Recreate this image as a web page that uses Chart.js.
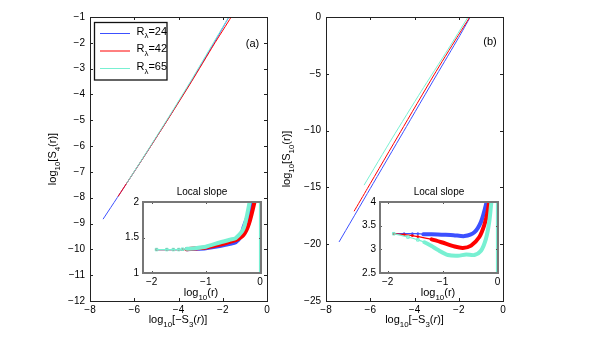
<!DOCTYPE html>
<html><head><meta charset="utf-8">
<script src="https://cdn.jsdelivr.net/npm/chart.js@4/dist/chart.umd.min.js"></script>
<style>
html,body{margin:0;padding:0;background:#fff;}
#wrap{position:relative;width:592px;height:355px;overflow:hidden;background:#fff;}
canvas{position:absolute;left:0;top:0;}
</style></head><body>
<div id="wrap">
<canvas id="mainA" width="592" height="355"></canvas>
<canvas id="mainB" width="592" height="355"></canvas>
<canvas id="insetA" width="592" height="355"></canvas>
<canvas id="insetB" width="592" height="355"></canvas>
</div>
<script>
// ---------- categories / labels ----------
const seriesLabels = ['24', '42', '65'];          // R_lambda values
const mainXTicks = [-8, -6, -4, -2, 0];
const mainAYTicks = [-12, -11, -10, -9, -8, -7, -6, -5, -4, -3, -2, -1];
const mainBYTicks = [-25, -20, -15, -10, -5, 0];
const insetXTicks = [-2, -1, 0];
const insetAYTicks = [1, 1.5, 2];
const insetBYTicks = [2.5, 3, 3.5, 4];

// ---------- panel (a): log10[S4] vs log10[-S3] ----------
const aBlueX = [-7.41, -6.41, -5.41, -4.41, -3.41, -2.41, -1.71, -1.2];
const aBlueY = [-8.83, -7.53, -6.21, -4.86, -3.47, -2.03, -0.98, -0.2];
const aRedX  = [-6.73, -5.41, -4.41, -3.41, -2.41, -1.62, -1.2];
const aRedY  = [-7.95, -6.21, -4.87, -3.5, -2.08, -1.0, -0.35];
const aCyanX = [-6.35, -5.41, -4.41, -3.41, -2.41, -1.73, -1.3];
const aCyanY = [-7.45, -6.19, -4.83, -3.43, -1.98, -1.0, -0.35];

// ---------- panel (b): log10[S10] vs log10[-S3] ----------
const bBlueX = [-7.41, -6, -4.5, -3, -2, -1.48, -1.2];
const bBlueY = [-19.8, -15.1, -10.1, -5.1, -1.8, 0, 1.0];
const bRedX  = [-6.73, -6.13, -4.63, -3.12, -2.08, -1.5, -1.2];
const bRedY  = [-17.1, -15.1, -10.1, -5.1, -1.8, 0, 1.0];
const bCyanX = [-6.28, -5.0, -3.7, -2.5, -1.58, -1.3];
const bCyanY = [-14.8, -10.64, -6.55, -2.89, 0, 0.9];

// ---------- inset (a): local slope vs log10(r) ----------
const iaBlueX = [-1.91, -1.72, -1.6, -1.5, -1.43, -1.35, -1.2, -1.0, -0.74, -0.55, -0.45, -0.35, -0.3, -0.2, -0.13, -0.08];
const iaBlueY = [1.33, 1.33, 1.33, 1.33, 1.33, 1.335, 1.34, 1.35, 1.38, 1.41, 1.43, 1.52, 1.65, 1.85, 2.0, 2.2];
const iaRedX  = [-1.91, -1.72, -1.6, -1.5, -1.43, -1.35, -1.2, -1.0, -0.74, -0.55, -0.45, -0.3, -0.2, -0.1, -0.05];
const iaRedY  = [1.33, 1.33, 1.33, 1.33, 1.33, 1.335, 1.345, 1.36, 1.40, 1.44, 1.46, 1.54, 1.7, 2.0, 2.2];
const iaCyanX = [-1.91, -1.72, -1.6, -1.5, -1.43, -1.35, -1.2, -1.0, -0.74, -0.55, -0.45, -0.3, -0.19, -0.12];
const iaCyanY = [1.33, 1.33, 1.33, 1.33, 1.335, 1.34, 1.35, 1.37, 1.43, 1.47, 1.49, 1.63, 2.0, 2.3];
const iaEdgeX = [0, 0];
const iaEdgeY = [0.9, 2.1];

// ---------- inset (b): local slope vs log10(r) ----------
const ibBlueX = [-1.89, -1.7, -1.55, -1.45, -1.35, -1.2, -1.02, -0.8, -0.6, -0.42, -0.3, -0.21, -0.15];
const ibBlueY = [3.33, 3.33, 3.33, 3.33, 3.32, 3.32, 3.31, 3.30, 3.28, 3.36, 3.58, 3.94, 4.3];
const ibRedX  = [-1.89, -1.7, -1.55, -1.45, -1.2, -1.02, -0.78, -0.63, -0.48, -0.33, -0.24, -0.18, -0.1];
const ibRedY  = [3.33, 3.31, 3.29, 3.27, 3.21, 3.15, 3.06, 3.03, 3.08, 3.26, 3.51, 3.79, 4.4];
const ibCyanX = [-1.89, -1.63, -1.45, -1.33, -1.2, -1.09, -0.9, -0.72, -0.57, -0.42, -0.3, -0.21, -0.15, -0.11, -0.05];
const ibCyanY = [3.33, 3.26, 3.2, 3.15, 3.07, 2.99, 2.88, 2.865, 2.89, 2.88, 2.97, 3.22, 3.58, 4.0, 4.5];
const ibEdgeX = [-0.01, -0.01];
const ibEdgeY = [2.4, 4.1];

// ---------- styling ----------
const FONT = '"Liberation Sans", Arial, Helvetica, sans-serif';
const BLUE = 'rgb(60,80,255)';
const RED = 'rgb(255,0,0)';
const CYAN = 'rgb(120,240,210)';
const COLORS = [BLUE, RED, CYAN];

function pts(xs, ys) { return xs.map((x, i) => ({ x: x, y: ys[i] })); }
function fmt(v) { return v < 0 ? '\u2212' + String(Math.abs(v)) : String(v); }

function drawRich(ctx, parts, x, y, size, align, angle) {
  ctx.save();
  ctx.translate(x, y);
  if (angle) ctx.rotate(angle);
  const sub = size * 0.72;
  let w = 0;
  const segs = parts.map(p => {
    const f = (p[2] ? 'italic ' : '') + (p[1] ? sub : size) + 'px ' + FONT;
    ctx.font = f;
    const m = ctx.measureText(p[0]).width;
    w += m;
    return [p[0], p[1], m, f];
  });
  let cx = align === 'center' ? -w / 2 : (align === 'right' ? -w : 0);
  ctx.textAlign = 'left';
  ctx.textBaseline = 'alphabetic';
  ctx.fillStyle = '#000';
  for (const s of segs) {
    ctx.font = s[3];
    ctx.fillText(s[0], cx, s[1] ? size * 0.32 : 0);
    cx += s[2];
  }
  ctx.restore();
}

function axis(min, max, ticks, dir, size, pad, fontSize) {
  return {
    type: 'linear', min: min, max: max,
    afterBuildTicks: s => { s.ticks = ticks.map(v => ({ value: v })); },
    afterFit: s => { if (dir === 'x') s.height = size; else s.width = size; },
    grid: { display: false, drawTicks: false },
    border: { display: false },
    ticks: {
      padding: pad, color: '#000', font: { family: FONT, size: fontSize },
      maxRotation: 0, minRotation: 0, autoSkip: false,
      callback: v => fmt(v)
    }
  };
}

function framePlugin(o) {
  return {
    id: 'frame',
    beforeDatasetsDraw(chart) {
      if (!o.fill) return;
      const a = chart.chartArea, ctx = chart.ctx;
      ctx.save(); ctx.fillStyle = '#fff';
      ctx.fillRect(a.left, a.top, a.right - a.left, a.bottom - a.top);
      ctx.restore();
    },
    afterDatasetsDraw(chart) {
      const a = chart.chartArea, ctx = chart.ctx, xs = chart.scales.x, ys = chart.scales.y;
      const L = o.tickLen;
      ctx.save();
      ctx.strokeStyle = o.tickColor; ctx.lineWidth = 1;
      ctx.beginPath();
      xs.ticks.forEach(t => {
        const p = Math.round(xs.getPixelForValue(t.value)) + 0.5;
        ctx.moveTo(p, a.bottom); ctx.lineTo(p, a.bottom - L);
        ctx.moveTo(p, a.top); ctx.lineTo(p, a.top + L);
      });
      ys.ticks.forEach(t => {
        const p = Math.round(ys.getPixelForValue(t.value)) + 0.5;
        ctx.moveTo(a.left, p); ctx.lineTo(a.left + L, p);
        ctx.moveTo(a.right, p); ctx.lineTo(a.right - L, p);
      });
      ctx.stroke();
      ctx.strokeStyle = o.frameColor; ctx.lineWidth = o.frameWidth;
      const off = o.frameWidth % 2 ? 0.5 : 0;
      ctx.strokeRect(a.left + off, a.top + off, a.right - a.left, a.bottom - a.top);
      ctx.restore();
    },
    afterDraw(chart) { if (o.draw) o.draw(chart.ctx, chart); }
  };
}

function mainDs(xs, ys, color, order) {
  return { data: pts(xs, ys), showLine: true, borderColor: color, borderWidth: 1, pointRadius: 0,
    tension: 0.2, clip: 0, order: order };
}
function insetDs(xs, ys, color, order, mk) {
  return { data: pts(xs, ys), showLine: true, borderColor: color, borderWidth: 4,
    segment: { borderWidth: c => (c.p0.parsed.x < -1.4 ? 1.2 : 4) },
    pointStyle: 'rect', pointRadius: c => (c.raw && c.raw.x < -1.38 ? mk : 0),
    pointBorderColor: color, pointBackgroundColor: 'rgba(0,0,0,0)', pointBorderWidth: 1,
    borderJoinStyle: 'round', borderCapStyle: 'round',
    tension: 0.25, clip: 0, order: order };
}

function build(id, o) {
  return new Chart(document.getElementById(id), {
    type: 'scatter',
    data: { datasets: o.datasets },
    options: {
      responsive: false, animation: false, devicePixelRatio: 1, events: [],
      layout: { padding: o.padding },
      plugins: { legend: { display: false }, tooltip: { enabled: false } },
      scales: {
        x: axis(o.xMin, o.xMax, o.xTicks, 'x', o.xH, o.xPad, 10),
        y: axis(o.yMin, o.yMax, o.yTicks, 'y', o.yW, o.yPad, 10)
      }
    },
    plugins: [framePlugin(o)]
  });
}

const xTitleMain = [['log', 0], ['10', 1], ['[\u2212S', 0], ['3', 1], ['(', 0], ['r', 0, 1], [')]', 0]];
const xTitleInset = [['log', 0], ['10', 1], ['(r)', 0]];

// Main (a)
build('mainA', {
  datasets: [mainDs(aCyanX, aCyanY, CYAN, 0), mainDs(aRedX, aRedY, RED, 1), mainDs(aBlueX, aBlueY, BLUE, 2)],
  padding: { left: 60, right: 325, top: 17, bottom: 34 },
  xMin: -8, xMax: 0, xTicks: mainXTicks, xH: 20, xPad: 3,
  yMin: -12, yMax: -1, yTicks: mainAYTicks, yW: 30, yPad: 5,
  tickLen: 3, tickColor: '#222', frameColor: '#222', frameWidth: 1, fill: false,
  draw: (ctx, chart) => {
    drawRich(ctx, xTitleMain, 178, 323, 11, 'center');
    drawRich(ctx, [['log', 0], ['10', 1], ['[S', 0], ['4', 1], ['(r)]', 0]], 56, 159, 11, 'center', -Math.PI / 2);
    drawRich(ctx, [['(a)', 0]], 252.5, 46.5, 11, 'center');
    // legend
    ctx.save();
    ctx.fillStyle = '#fff'; ctx.fillRect(94, 22, 73, 58);
    ctx.strokeStyle = '#111'; ctx.lineWidth = 1.3; ctx.strokeRect(94.5, 22.5, 72.5, 57.5);
    const rowsLine = [33.5, 51, 68.5];
    const rowsText = [34.5, 52, 70];
    seriesLabels.forEach((lab, i) => {
      ctx.strokeStyle = COLORS[i]; ctx.lineWidth = 1;
      ctx.beginPath(); ctx.moveTo(100, rowsLine[i]); ctx.lineTo(130, rowsLine[i]); ctx.stroke();
      drawRich(ctx, [['R', 0], ['\u03bb', 1], ['=' + lab, 0]], 136.5, rowsText[i], 11, 'left');
    });
    ctx.restore();
  }
});

// Main (b)
build('mainB', {
  datasets: [mainDs(bCyanX, bCyanY, CYAN, 0), mainDs(bRedX, bRedY, RED, 1), mainDs(bBlueX, bBlueY, BLUE, 2)],
  padding: { left: 296, right: 89, top: 17, bottom: 34 },
  xMin: -8, xMax: 0, xTicks: mainXTicks, xH: 20, xPad: 3,
  yMin: -25, yMax: 0, yTicks: mainBYTicks, yW: 30, yPad: 5,
  tickLen: 3, tickColor: '#222', frameColor: '#222', frameWidth: 1, fill: false,
  draw: (ctx) => {
    drawRich(ctx, xTitleMain, 414.5, 323, 11, 'center');
    drawRich(ctx, [['log', 0], ['10', 1], ['[S', 0], ['10', 1], ['(r)]', 0]], 290, 159, 11, 'center', -Math.PI / 2);
    drawRich(ctx, [['(b)', 0]], 490, 45, 11, 'center');
  }
});

// Inset (a)
build('insetA', {
  datasets: [insetDs(iaCyanX, iaCyanY, CYAN, 0, 1.8), insetDs(iaRedX, iaRedY, RED, 1, 1.1), insetDs(iaBlueX, iaBlueY, BLUE, 2, 1.1),
    { data: pts(iaEdgeX, iaEdgeY), showLine: true, borderColor: CYAN, borderWidth: 2, pointRadius: 0, clip: 0, order: 3 }],
  padding: { left: 118, right: 331, top: 202, bottom: 67 },
  xMin: -2.16, xMax: 0.02, xTicks: insetXTicks, xH: 15, xPad: 3,
  yMin: 1, yMax: 2, yTicks: insetAYTicks, yW: 25, yPad: 4,
  tickLen: 2, tickColor: '#555', frameColor: '#777', frameWidth: 2, fill: true,
  draw: (ctx) => {
    drawRich(ctx, [['Local slope', 0]], 202, 195, 10, 'center');
    drawRich(ctx, xTitleInset, 201, 296, 11, 'center');
  }
});

// Inset (b)
build('insetB', {
  datasets: [insetDs(ibCyanX, ibCyanY, CYAN, 0, 1.8), insetDs(ibRedX, ibRedY, RED, 1, 1.1), insetDs(ibBlueX, ibBlueY, BLUE, 2, 1.1),
    { data: pts(ibEdgeX, ibEdgeY), showLine: true, borderColor: CYAN, borderWidth: 2, pointRadius: 0, clip: 0, order: 3 }],
  padding: { left: 355, right: 94, top: 202, bottom: 67 },
  xMin: -2.14, xMax: 0.01, xTicks: insetXTicks, xH: 15, xPad: 3,
  yMin: 2.5, yMax: 4, yTicks: insetBYTicks, yW: 25, yPad: 4,
  tickLen: 2, tickColor: '#555', frameColor: '#777', frameWidth: 2, fill: true,
  draw: (ctx) => {
    drawRich(ctx, [['Local slope', 0]], 439, 195, 10, 'center');
    drawRich(ctx, xTitleInset, 438, 296, 11, 'center');
  }
});
</script>
</body></html>
